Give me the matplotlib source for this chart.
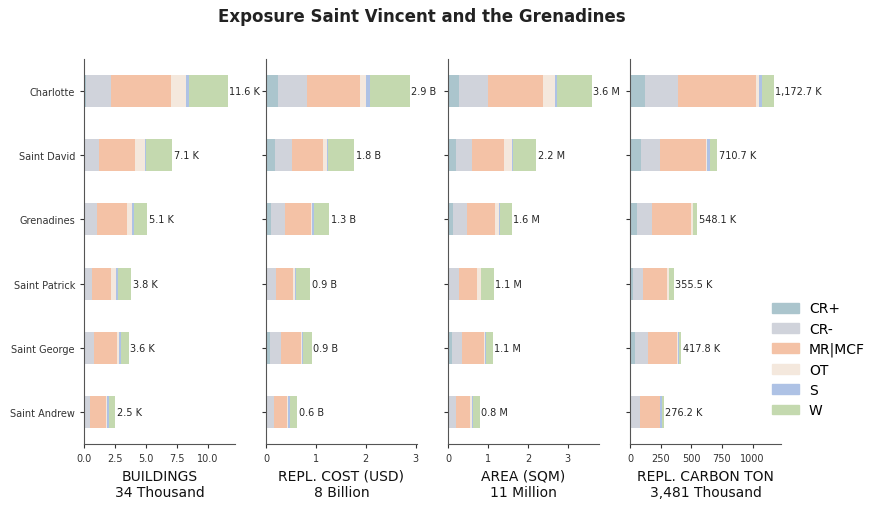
import numpy as np
import matplotlib
matplotlib.use("Agg")
import matplotlib.pyplot as plt
from matplotlib.patches import Patch

# =========================
# Data
# =========================
DISTRICTS = ["Charlotte", "Saint David", "Grenadines", "Saint Patrick", "Saint George", "Saint Andrew"]
CLASSES = ["CR+", "CR-", "MR|MCF", "OT", "S", "W"]
COLORS = ["#abc5cd", "#d0d3db", "#f4c2a6", "#f4e8dd", "#aec2e5", "#c4d9af"]

# buildings (thousand)
buildings = {
    "CR+":    [0.20, 0.10, 0.12, 0.02, 0.02, 0.02],
    "CR-":    [1.95, 1.15, 0.93, 0.60, 0.76, 0.44],
    "MR|MCF": [4.85, 2.85, 2.45, 1.54, 1.87, 1.30],
    "OT":     [1.20, 0.80, 0.40, 0.40, 0.15, 0.13],
    "S":      [0.30, 0.07, 0.10, 0.17, 0.17, 0.11],
    "W":      [3.10, 2.13, 1.10, 1.07, 0.63, 0.50],
}
# replacement cost (billion USD)
cost = {
    "CR+":    [0.25, 0.19, 0.11, 0.02, 0.09, 0.02],
    "CR-":    [0.58, 0.34, 0.28, 0.19, 0.22, 0.15],
    "MR|MCF": [1.06, 0.62, 0.52, 0.34, 0.40, 0.26],
    "OT":     [0.12, 0.07, 0.02, 0.03, 0.015, 0.02],
    "S":      [0.08, 0.02, 0.03, 0.03, 0.02, 0.04],
    "W":      [0.79, 0.53, 0.31, 0.28, 0.17, 0.14],
}
# area (million sqm)
area = {
    "CR+":    [0.27, 0.19, 0.12, 0.025, 0.09, 0.02],
    "CR-":    [0.72, 0.42, 0.35, 0.24, 0.27, 0.19],
    "MR|MCF": [1.40, 0.80, 0.70, 0.45, 0.53, 0.35],
    "OT":     [0.28, 0.20, 0.10, 0.10, 0.04, 0.04],
    "S":      [0.07, 0.02, 0.02, 0.005, 0.01, 0.02],
    "W":      [0.86, 0.58, 0.31, 0.32, 0.18, 0.17],
}
# replacement carbon (thousand ton)
carbon = {
    "CR+":    [120, 87, 54, 22, 38, 11],
    "CR-":    [269, 155, 123, 81, 106, 68],
    "MR|MCF": [636, 375, 318, 196, 236, 163],
    "OT":     [24, 13, 16, 16, 9, 3],
    "S":      [24, 19, 2, 3, 8, 13],
    "W":      [99.7, 61.7, 35.1, 37.5, 20.8, 18.2],
}

PANELS = [
    (buildings, "BUILDINGS\n34 Thousand", "{:.1f} K", [0, 2.5, 5, 7.5, 10], ["0.0", "2.5", "5.0", "7.5", "10.0"]),
    (cost, "REPL. COST (USD)\n8 Billion", "{:.1f} B", [0, 1, 2, 3], ["0", "1", "2", "3"]),
    (area, "AREA (SQM)\n11 Million", "{:.1f} M", [0, 1, 2, 3], ["0", "1", "2", "3"]),
    (carbon, "REPL. CARBON TON\n3,481 Thousand", "{:,.1f} K", [0, 250, 500, 750, 1000], ["0", "250", "500", "750", "1000"]),
]


def draw_panel(ax, data, xlabel, fmt, ticks, ticklabels, show_names):
    y = np.arange(len(DISTRICTS))
    left = np.zeros(len(DISTRICTS))
    for cls, col in zip(CLASSES, COLORS):
        vals = np.array(data[cls], dtype=float)
        ax.barh(y, vals, left=left, height=0.5, color=col, linewidth=0)
        left += vals
    xmax = left.max() * 1.05
    for yi, tot in zip(y, left):
        ax.text(tot + xmax * 0.01, yi, fmt.format(tot), va="center", ha="left",
                fontsize=7, color="#262626")
    ax.set_xlim(0, xmax)
    ax.set_ylim(len(DISTRICTS) - 0.5, -0.5)
    ax.set_yticks(y)
    ax.set_yticklabels(DISTRICTS if show_names else [])
    ax.set_xticks(ticks)
    ax.set_xticklabels(ticklabels)
    ax.tick_params(labelsize=7, colors="#333333", length=3)
    ax.set_xlabel(xlabel, fontsize=10, color="#111111")
    for s in ["top", "right"]:
        ax.spines[s].set_visible(False)
    for s in ["left", "bottom"]:
        ax.spines[s].set_color("#555555")


def main():
    fig = plt.figure(figsize=(8.82, 5.10), dpi=100)
    lefts = [84, 266, 448, 630]
    for i, (data, xl, fmt, ticks, tl) in enumerate(PANELS):
        ax = fig.add_axes([lefts[i] / 882, 65 / 510, 151 / 882, 385 / 510])
        draw_panel(ax, data, xl, fmt, ticks, tl, i == 0)

    fig.suptitle("Exposure Saint Vincent and the Grenadines", x=0.478, y=0.985,
                 fontsize=12, fontweight="bold", color="#222222")

    handles = [Patch(color=c, label=l) for c, l in zip(COLORS, CLASSES)]
    fig.legend(handles=handles, loc="upper left", bbox_to_anchor=(759 / 882, 1 - 290 / 510),
               frameon=False, fontsize=10, handlelength=2.0, handleheight=0.7,
               labelspacing=0.45, handletextpad=0.7)

    fig.savefig("out.png", dpi=100)


if __name__ == "__main__":
    main()
